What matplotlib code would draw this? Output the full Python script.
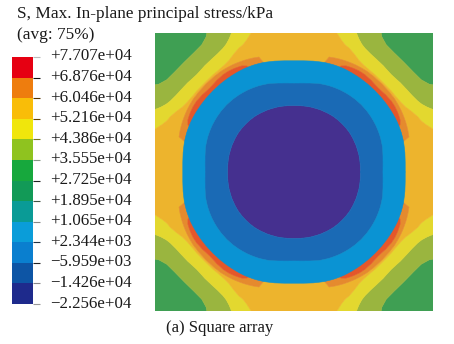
import numpy as np
import matplotlib
matplotlib.use("Agg")
import matplotlib.pyplot as plt
from matplotlib.colors import ListedColormap, BoundaryNorm
from matplotlib.transforms import ScaledTranslation

plt.rcParams['font.family'] = ['Liberation Serif', 'DejaVu Serif']

TITLE = "S, Max. In-plane principal stress/kPa"
SUBTITLE = "(avg: 75%)"
CAPTION = "(a) Square array"

LEVELS = [-2.256e4, -1.426e4, -5.959e3, 2.344e3, 1.065e4, 1.895e4, 2.725e4,
          3.555e4, 4.386e4, 5.216e4, 6.046e4, 6.876e4, 7.707e4]
LEVEL_LABELS = ["\u22122.256e+04", "\u22121.426e+04", "\u22125.959e+03", "+2.344e+03",
                "+1.065e+04", "+1.895e+04", "+2.725e+04", "+3.555e+04", "+4.386e+04",
                "+5.216e+04", "+6.046e+04", "+6.876e+04", "+7.707e+04"]
BAR_COLORS = ["#1e2a8c", "#0d55a5", "#0a7fcf", "#0a9dd9", "#0a9b96", "#129a57",
              "#17a83d", "#8fc31f", "#f0e60c", "#f9bd08", "#ee7d0e", "#e60012"]
TICK_COLORS = ["#999999", "#888888", "#222222", "#223344", "#888888", "#445544",
               "#222222", "#889988", "#777722", "#664400", "#553300", "#111111", "#bbbbbb"]

# Contour radii read from one octant of the plate (half width = 1), per ray angle
THETA_DEG = [0, 5, 10, 15, 17, 20, 22, 24, 26, 28, 30, 33, 36, 40, 45]
R_NAVY = [.478, .479, .481, .483, .483, .484, .485, .486, .486, .487, .488, .489, .49, .49, .49]
R_BLUE = [.64, .643, .65, .66, .663, .667, .67, .672, .674, .676, .678, .68, .682, .684, .685]
R_LIGHT = [.80, .803, .81, .817, .819, .822, .823, .824, .825, .825, .825, .825, .825, .825, .825]
R_RED = [.70, .70, .70, .71, .72, .74, .79, .835, .85, .855, .86, .865, .866, .862, .855]
R_ORANGE = [.72, .72, .74, .80, .865, .872, .876, .88, .883, .886, .889, .892, .895, .895, .895]
R_AMBER = [1.35, 1.25, 1.15, 1.09, 1.048, 1.005, .985, .975, .96, .945, .93, .918, .912, .91, .908]
R_YELLOW = [1.6, 1.5, 1.4, 1.3, 1.25, 1.19, 1.14, 1.10, 1.065, 1.04, 1.025, 1.012, 1.005, .998, .99]
R_OLIVE = [1.9, 1.8, 1.7, 1.6, 1.55, 1.48, 1.43, 1.39, 1.34, 1.29, 1.23, 1.16, 1.13, 1.12, 1.117]

INNER_COLORS = ["#45308f", "#1a6ab5", "#0a93d3"]
OUTER_COLORS = ["#3f9f53", "#9ab53f", "#e3d82f", "#edb42d", "#e58a2e", "#e4572a"]


def full_circle(values):
    quadrant = list(values) + list(values[-2::-1])
    return np.array(quadrant + quadrant[1:] + quadrant[1:] + quadrant[1:], dtype=float)


theta_octant = list(THETA_DEG) + [90 - t for t in THETA_DEG[-2::-1]]
theta = np.deg2rad(theta_octant + [90 + t for t in theta_octant[1:]]
                   + [180 + t for t in theta_octant[1:]]
                   + [270 + t for t in theta_octant[1:]])


def contour_layer(ax, rows, row_values, levels, colors):
    radii = np.array(rows)
    x = radii * np.cos(theta)
    y = radii * np.sin(theta)
    z = np.outer(row_values, np.ones_like(theta))
    cs = ax.contourf(x, y, z, levels=levels, colors=colors, antialiased=True)
    cs.set_edgecolor('face')
    cs.set_linewidth(0.4)
    return cs


W, H = 454, 344
fig = plt.figure(figsize=(W / 100, H / 100), dpi=100, facecolor='white')

# Field
ax = fig.add_axes([155 / W, 1 - 311 / H, 278 / W, 278 / H])
ax.set_xlim(-1, 1)
ax.set_ylim(-1, 1)
ax.set_aspect('equal')
ax.axis('off')

outer_rows = [np.full_like(theta, .5), full_circle(R_RED), full_circle(R_ORANGE),
              full_circle(R_AMBER), full_circle(R_YELLOW), full_circle(R_OLIVE),
              np.full_like(theta, 2.1)]
outer_values = [7.5e4, LEVELS[11], LEVELS[10], LEVELS[9], LEVELS[8], LEVELS[7], 3.0e4]
contour_layer(ax, outer_rows, outer_values, LEVELS[6:], OUTER_COLORS)

inner_rows = [np.zeros_like(theta), full_circle(R_NAVY), full_circle(R_BLUE),
              full_circle(R_LIGHT), np.full_like(theta, .95)]
inner_values = [-2.0e4, LEVELS[1], LEVELS[2], LEVELS[3], 5.0e3]
contour_layer(ax, inner_rows, inner_values, LEVELS[:4], INNER_COLORS)

# Legend bar
cax = fig.add_axes([12 / W, 1 - 304 / H, 21 / W, 247 / H])
cmap = ListedColormap(BAR_COLORS)
cax.pcolormesh([0, 1], LEVELS, np.arange(12).reshape(-1, 1), cmap=cmap,
               norm=BoundaryNorm(np.arange(-.5, 12.5), 12))
cax.set_xticks([])
cax.yaxis.tick_right()
cax.set_yticks(LEVELS)
cax.set_yticklabels(LEVEL_LABELS, fontsize=12.2, color='#1a1a1a')
cax.tick_params(axis='y', length=5.0, width=0.8, pad=7.2)
cax.set_ylim(LEVELS[0], LEVELS[-1])
for s in cax.spines.values():
    s.set_visible(False)
shift = ScaledTranslation(0, 2.5 / 100, fig.dpi_scale_trans)
for tick, color in zip(cax.yaxis.get_major_ticks(), TICK_COLORS):
    tick.tick2line.set_color(color)
    tick.tick2line.set_markeredgecolor(color)
    tick.label2.set_transform(tick.label2.get_transform() + shift)

# Texts
fig.text(17 / W, 1 - 14 / H, TITLE, fontsize=12.4, color='#1a1a1a', ha='left', va='center')
fig.text(17 / W, 1 - 35 / H, SUBTITLE, fontsize=12.4, color='#1a1a1a', ha='left', va='center')
fig.text(166 / W, 1 - 328 / H, CAPTION, fontsize=12.0, color='#1a1a1a', ha='left', va='center')

fig.savefig("out.png", dpi=100)
